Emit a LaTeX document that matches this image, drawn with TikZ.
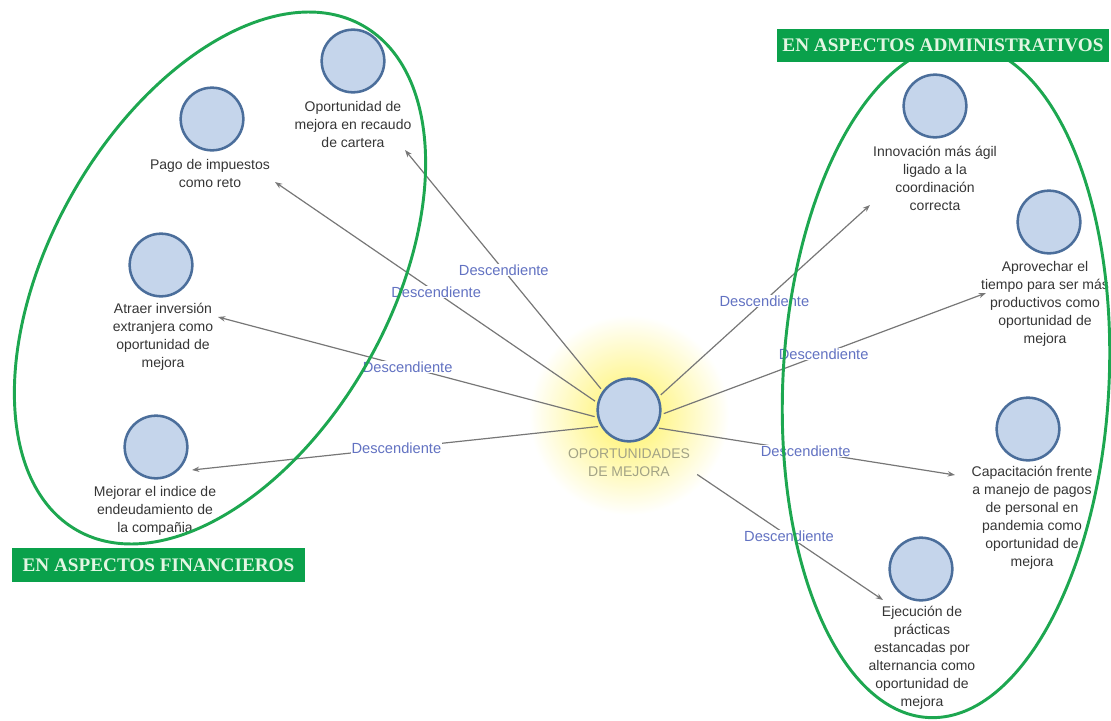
\documentclass[tikz,border=0pt]{standalone}
\usepackage{fontspec}
\setmainfont{Liberation Sans}
\newfontfamily\boxfont{Liberation Serif}
\usetikzlibrary{arrows.meta}
\definecolor{grn}{HTML}{1DA750}
\definecolor{boxgrn}{HTML}{0AA14B}
\definecolor{boxtxt}{HTML}{E2F6E2}
\definecolor{cfill}{HTML}{C5D5EB}
\definecolor{cdraw}{HTML}{4B6E9B}
\definecolor{edgec}{HTML}{777777}
\definecolor{lblc}{HTML}{6272C2}
\definecolor{txtc}{HTML}{353535}
\definecolor{ctxt}{HTML}{A3A386}
\definecolor{glowc}{HTML}{FFF260}
\begin{document}
\begin{tikzpicture}[x=0.75pt,y=-0.75pt,
  bub/.style={circle,draw=cdraw,fill=cfill,line width=1.9pt,minimum size=47pt,inner sep=0pt},
  desc/.style={align=center,text=txtc,font=\fontsize{10.5}{13.5}\selectfont,inner sep=0pt},
  rel/.style={draw=edgec,line width=0.9pt,-{Stealth[length=5.5pt,width=4pt]},shorten <=2pt},
  lbl/.style={fill=white,text=lblc,font=\fontsize{11}{13}\selectfont,inner sep=0.5pt},
  grp/.style={draw=grn,line width=2.2pt},
  tag/.style={fill=boxgrn,text=boxtxt,font=\boxfont\bfseries\fontsize{14.4}{16}\selectfont,inner sep=0pt}]
\useasboundingbox (0,0) rectangle (1111,721);
\shade[inner color=glowc, outer color=white] (629,415) circle (100);

% centre
\node[bub] (c) at (629,410) {};
\node[desc,text=ctxt] (cl) at (629,463) {OPORTUNIDADES\\DE MEJORA};

% left group
\node[bub] (n1) at (353,61) {};
\node[desc] (d1) at (353,124) {Oportunidad de\\mejora en recaudo\\de cartera};
\node[bub] (n2) at (212,119) {};
\node[desc] (d2) at (210,173.5) {Pago de impuestos\\como reto};
\node[bub] (n3) at (161,265) {};
\node[desc] (d3) at (163,337) {Atraer inversión\\extranjera como\\oportunidad de\\mejora};
\node[bub] (n4) at (156,447) {};
\node[desc] (d4) at (155,511) {Mejorar el indice de\\endeudamiento de\\la compañia};

% right group
\node[bub] (n5) at (935,106) {};
\node[desc] (d5) at (935,178) {Innovación más ágil\\ligado a la\\coordinación\\correcta};
\node[bub] (n6) at (1049,222) {};
\node[desc] (d6) at (1045,304) {Aprovechar el\\tiempo para ser más\\productivos como\\oportunidad de\\mejora};
\node[bub] (n7) at (1028,429) {};
\node[desc] (d7) at (1032,518) {Capacitación frente\\a manejo de pagos\\de personal en\\pandemia como\\oportunidad de\\mejora};
\node[bub] (n8) at (921,569) {};
\node[desc] (d8) at (922,658) {Ejecución de\\prácticas\\estancadas por\\alternancia como\\oportunidad de\\mejora};

% arrow tips
\coordinate (t1) at (405,150);
\coordinate (t2) at (275,182);
\coordinate (t3) at (218,317);
\coordinate (t4) at (192,470);
\coordinate (t5) at (870,205);
\coordinate (t6) at (986,293);
\coordinate (t7) at (955,475);
\coordinate (t8) at (883,600);
\coordinate (s8) at (695,473);

\draw[rel] (c.144) -- node[lbl]{Descendiente} (t1);
\draw[rel] (c.167) -- node[lbl]{Descendiente} (t2);
\draw[rel] (c.193) -- node[lbl]{Descendiente} (t3);
\draw[rel] (c.210) -- node[lbl]{Descendiente} (t4);
\draw[rel] (c.24) -- node[lbl]{Descendiente} (t5);
\draw[rel] (c.-8) -- node[lbl]{Descendiente} (t6);
\draw[rel] (c.-33) -- node[lbl]{Descendiente} (t7);
\draw[rel] (s8) -- node[lbl]{Descendiente} (t8);

% group ellipses
\draw[grp, rotate around={60.5:(220,278)}] (220,278) ellipse [x radius=290, y radius=170];
\draw[grp, rotate around={-3:(946,381)}] (946,381) ellipse [x radius=163, y radius=337];

% tags
\node[tag, minimum width=249pt, minimum height=24.75pt] (ta) at (943,45.5) {EN ASPECTOS ADMINISTRATIVOS};
\node[tag, minimum width=220pt, minimum height=25.5pt] (tf) at (158.5,565) {EN ASPECTOS FINANCIEROS};
\end{tikzpicture}
\end{document}
